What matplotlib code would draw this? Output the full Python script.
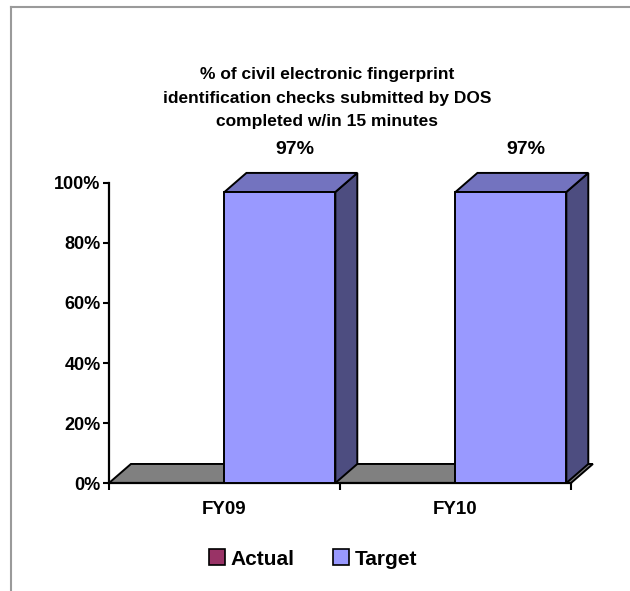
import numpy as np
import matplotlib
matplotlib.use("Agg")
import matplotlib.pyplot as plt
from matplotlib.patches import Polygon, Patch
from matplotlib.lines import Line2D

# fiscal years and percentage completed within 15 minutes
years = ["FY09", "FY10"]
actual = [np.nan, np.nan]   # no actuals reported yet
target = [97, 97]
y_ticks = [0, 20, 40, 60, 80, 100]

title = ("% of civil electronic fingerprint\n"
         "identification checks submitted by DOS\n"
         "completed w/in 15 minutes")

# face colours for the pseudo 3-D columns: front, top, side
FRONT = {"Actual": "#993366", "Target": "#9999FF"}
TOP = {"Actual": "#7A2952", "Target": "#7373BF"}
SIDE = {"Actual": "#4D1A33", "Target": "#4D4D80"}

# depth of the oblique projection, in data units
DX, DY = 0.095, 6.35
EDGE_LW = 1.4

plt.rcParams["font.family"] = ["Liberation Sans", "DejaVu Sans"]
plt.rcParams["font.weight"] = "bold"

fig = plt.figure(figsize=(6.3, 5.91), dpi=100)
ax = fig.add_axes([0.173, 0.1827, 0.7333, 0.5077])
ax.set_xlim(0, len(years))
ax.set_ylim(0, 100)


def add_face(pts, color, z):
    ax.add_patch(Polygon(pts, closed=True, facecolor=color, edgecolor="black",
                         linewidth=EDGE_LW, joinstyle="miter", clip_on=False,
                         zorder=z))


def draw_column(x0, x1, h, series, z):
    add_face([(x1, 0), (x1 + DX, DY), (x1 + DX, h + DY), (x1, h)], SIDE[series], z)
    add_face([(x0, h), (x1, h), (x1 + DX, h + DY), (x0 + DX, h + DY)], TOP[series], z)
    add_face([(x0, 0), (x1, 0), (x1, h), (x0, h)], FRONT[series], z)


# grey floor under the columns
n = len(years)
add_face([(0, 0), (n, 0), (n + DX, DY), (DX, DY)], "#808080", 1)

bar_w = 0.48
for i in range(n):
    c = i + 0.5
    for j, (name, vals) in enumerate([("Actual", actual), ("Target", target)]):
        v = vals[i]
        if np.isnan(v):
            continue
        x0 = c - bar_w + j * bar_w
        draw_column(x0, x0 + bar_w, v, name, 3 + i)
        if name == "Target":
            ax.annotate(f"{v:.0f}%", (x0 + bar_w / 2 + DX * 0.7, v + DY),
                        xytext=(0, 15), textcoords="offset pixels",
                        ha="center", va="bottom", fontsize=14,
                        fontweight="bold", annotation_clip=False)

for side in ("top", "right"):
    ax.spines[side].set_visible(False)
ax.spines["left"].set_linewidth(1.6)
ax.spines["bottom"].set_linewidth(1.6)
ax.spines["bottom"].set_zorder(2)

ax.set_yticks(y_ticks)
ax.set_yticklabels([f"{v}%" for v in y_ticks])
ax.tick_params(axis="y", length=4, width=1.5, pad=2, labelsize=13)

ax.set_xticks(range(n + 1))
ax.set_xticklabels([])
ax.set_xticks([i + 0.5 for i in range(n)], minor=True)
ax.set_xticklabels(years, minor=True)
ax.tick_params(axis="x", which="major", length=5, width=1.5, direction="out")
ax.tick_params(axis="x", which="minor", length=0, pad=13, labelsize=13.5)

fig.text(327 / 630, 1 - 98 / 591, title, ha="center", va="center",
         fontsize=12.5, fontweight="bold", linespacing=1.68)

handles = [Patch(facecolor=FRONT[k], edgecolor="black", linewidth=1.2)
           for k in ("Actual", "Target")]
fig.legend(handles, ["Actual", "Target"], loc="center",
           bbox_to_anchor=(313 / 630, 1 - 559 / 591), ncol=2, frameon=False,
           handlelength=0.78, handleheight=0.78, handletextpad=0.25,
           columnspacing=1.85, fontsize=15)

# light frame on the top and left edges
fc = "#9A9A9A"
fig.add_artist(Line2D([10.5 / 630, 10.5 / 630], [0, 1 - 6.5 / 591],
                      transform=fig.transFigure, color=fc, lw=1.5))
fig.add_artist(Line2D([10.5 / 630, 1], [1 - 6.5 / 591, 1 - 6.5 / 591],
                      transform=fig.transFigure, color=fc, lw=1.5))

fig.savefig("out.png", dpi=100)
